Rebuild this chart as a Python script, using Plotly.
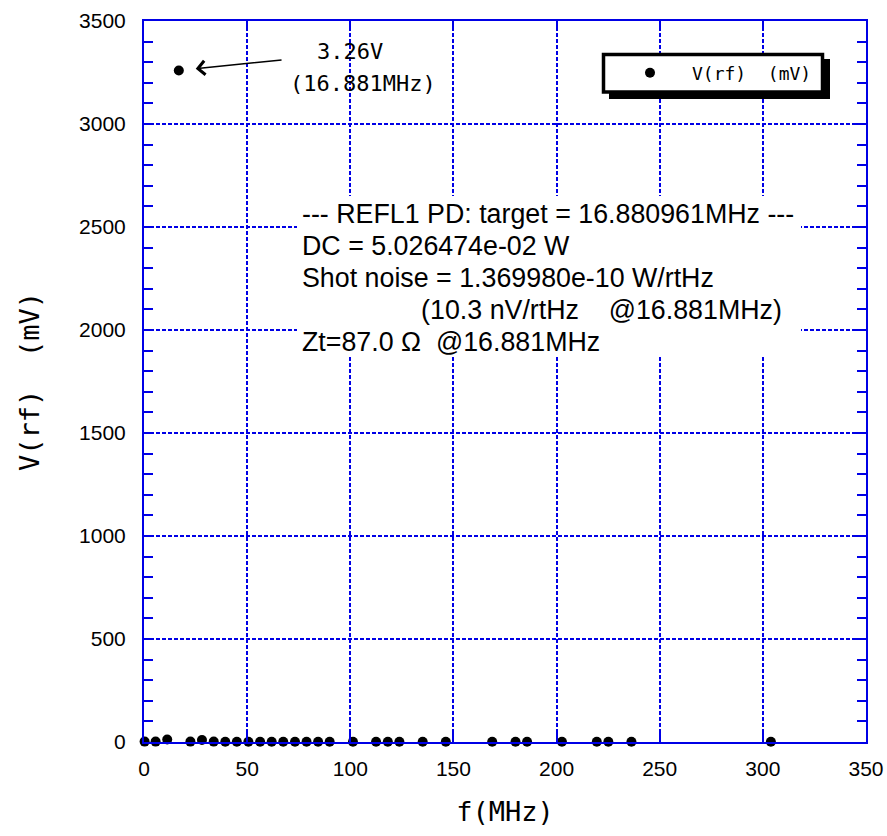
import plotly.graph_objects as go

# RF pickup spectrum on the REFL1 photodiode
freq_mhz = [0.3, 5.63, 11.25, 16.881, 22.5, 28.1, 33.8, 39.4, 45.0, 50.6, 56.3,
            61.9, 67.5, 73.2, 78.8, 84.4, 90.0, 101.3, 112.5, 118.2, 123.8,
            135.1, 146.3, 168.8, 180.1, 185.7, 202.6, 219.5, 225.1, 236.3, 303.9]
v_rf_mv = [2, 2, 12, 3260, 2, 10, 2, 1, 1, 1, 1,
           1, 1, 1, 1, 1, 1, 1, 1, 1, 1,
           1, 1, 1, 1, 1, 1, 1, 1, 1, 1]

peak_freq = 16.881
peak_mv = 3260

info_lines = [
    "--- REFL1 PD: target = 16.880961MHz ---",
    "DC = 5.026474e-02 W",
    "Shot noise = 1.369980e-10 W/rtHz",
    "\u00a0" * 16 + "(10.3 nV/rtHz\u00a0\u00a0\u00a0\u00a0@16.881MHz)",
    "Zt=87.0 \u03a9\u00a0 @16.881MHz",
]

x_ticks = [0, 50, 100, 150, 200, 250, 300, 350]
y_ticks = [0, 500, 1000, 1500, 2000, 2500, 3000, 3500]

BLUE = "rgb(0,0,230)"
MONO = "DejaVu Sans Mono"
SANS = "Liberation Sans, Arial"

# plot-area geometry in pixels (used for paper-space placement)
PX_L, PX_R, PX_T, PX_B = 144, 866, 21, 742


def px_to_paper(px, py):
    return (px - PX_L) / (PX_R - PX_L), (PX_B - py) / (PX_B - PX_T)


fig = go.Figure()
fig.add_trace(go.Scatter(
    x=freq_mhz, y=v_rf_mv, mode="markers",
    name="V(rf)\u00a0\u00a0(mV)",
    marker=dict(color="black", size=10, line=dict(width=0)),
    cliponaxis=False,
))

axis_common = dict(
    showline=True, linecolor=BLUE, linewidth=2, mirror="ticks",
    ticks="inside", tickcolor=BLUE, tickwidth=2, ticklen=10,
    showgrid=True, gridcolor=BLUE, gridwidth=1.5, griddash="4px,2px",
    zeroline=False, automargin=False,
    tickfont=dict(family=SANS, size=21, color="black"),
)

fig.update_xaxes(
    range=[0, 350], tickvals=x_ticks, ticktext=[str(v) for v in x_ticks],
    ticklabelstandoff=7,
    title=dict(text="f(MHz)", font=dict(family=MONO, size=27, color="black"),
               standoff=23),
    **axis_common,
)
fig.update_yaxes(
    range=[0, 3500], tickvals=y_ticks, ticktext=[str(v) for v in y_ticks],
    ticklabelstandoff=12,
    minor=dict(dtick=100, ticks="inside", ticklen=9, tickcolor=BLUE,
               tickwidth=2, showgrid=False),
    title=dict(text="V(rf)\u00a0\u00a0(mV)",
               font=dict(family=MONO, size=27, color="black"), standoff=32),
    **axis_common,
)

# white panel behind the measurement summary (covers the grid)
wx0, wy0 = px_to_paper(297, 357)
wx1, wy1 = px_to_paper(801, 196)
fig.add_shape(type="rect", xref="paper", yref="paper",
              x0=wx0, x1=wx1, y0=wy0, y1=wy1,
              fillcolor="white", line=dict(width=0), layer="above")

# legend frame with drop shadow
sx0, sy0 = px_to_paper(609, 99)
sx1, sy1 = px_to_paper(830, 59)
fig.add_shape(type="rect", xref="paper", yref="paper",
              x0=sx0, x1=sx1, y0=sy0, y1=sy1,
              fillcolor="black", line=dict(width=0), layer="above")
bx0, by0 = px_to_paper(603.5, 92)
bx1, by1 = px_to_paper(822.5, 54.5)
fig.add_shape(type="rect", xref="paper", yref="paper",
              x0=bx0, x1=bx1, y0=by0, y1=by1,
              fillcolor="white", line=dict(color="black", width=3.5), layer="above")

# peak callout
fig.add_annotation(x=peak_freq, y=peak_mv, xref="x", yref="y",
                   ax=67.4, ay=3312, axref="x", ayref="y",
                   text="", showarrow=True, arrowhead=4, arrowsize=1.8,
                   arrowwidth=1.5, arrowcolor="black", standoff=17)
ax_, ay_ = px_to_paper(315, 52)
fig.add_annotation(x=ax_, y=ay_, xref="paper", yref="paper",
                   text=f"{peak_mv / 1000:.2f}V", showarrow=False,
                   xanchor="left", yanchor="middle",
                   font=dict(family=MONO, size=22, color="black"))
ax_, ay_ = px_to_paper(288, 84)
fig.add_annotation(x=ax_, y=ay_, xref="paper", yref="paper",
                   text=f"({peak_freq:.3f}MHz)", showarrow=False,
                   xanchor="left", yanchor="middle",
                   font=dict(family=MONO, size=22, color="black"))

# measurement summary, one annotation per line
for i, line in enumerate(info_lines):
    lx, ly = px_to_paper(300, 214 + 32 * i)
    fig.add_annotation(x=lx, y=ly, xref="paper", yref="paper",
                       text=line, showarrow=False, align="left",
                       xanchor="left", yanchor="middle",
                       font=dict(family=SANS, size=26.8, color="black"))

lgx, lgy = px_to_paper(608, 73)
fig.update_layout(
    width=887, height=836,
    margin=dict(l=PX_L, r=887 - PX_R, t=PX_T, b=836 - PX_B),
    paper_bgcolor="white", plot_bgcolor="white",
    showlegend=True,
    legend=dict(x=lgx, y=lgy, xanchor="left", yanchor="middle",
                bgcolor="rgba(0,0,0,0)", borderwidth=0, itemwidth=74,
                font=dict(family=MONO, size=18, color="black")),
)

fig.write_html("out.html")
